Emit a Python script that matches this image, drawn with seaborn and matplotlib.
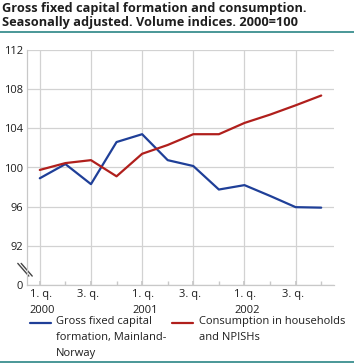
import matplotlib
matplotlib.use("Agg")
import matplotlib.pyplot as plt
import seaborn as sns
import pandas as pd
from matplotlib.lines import Line2D
import matplotlib.transforms as mtrans

quarters = ["2000Q1", "2000Q2", "2000Q3", "2000Q4",
            "2001Q1", "2001Q2", "2001Q3", "2001Q4",
            "2002Q1", "2002Q2", "2002Q3", "2002Q4"]
gfcf = [98.9, 100.35, 98.3, 102.6, 103.4, 100.75, 100.15, 97.75, 98.2, 97.1, 95.95, 95.9]
consumption = [99.75, 100.45, 100.75, 99.1, 101.4, 102.3, 103.4, 103.4, 104.55, 105.4, 106.35, 107.35]
series_names = ["Gross fixed capital\nformation, Mainland-\nNorway",
                "Consumption in households\nand NPISHs"]
tick_labels = ["1. q.\n2000", "3. q.", "1. q.\n2001", "3. q.", "1. q.\n2002", "3. q."]
ytick_values = [88, 92, 96, 100, 104, 108, 112]
ytick_labels = ["0", "92", "96", "100", "104", "108", "112"]

df = pd.DataFrame({
    "x": list(range(len(quarters))) * 2,
    "value": gfcf + consumption,
    "series": [series_names[0]] * len(quarters) + [series_names[1]] * len(quarters),
})

sns.set_theme(style="white")
plt.rcParams["font.family"] = ["Open Sans", "DejaVu Sans"]
text_color = "#1e1e1e"

W, H = 354, 364
fig = plt.figure(figsize=(W / 100, H / 100), dpi=100)
ax = fig.add_axes([27 / W, 1 - 285 / H, (334 - 27) / W, (285 - 50) / H])

colors = {series_names[0]: "#1f3f98", series_names[1]: "#b01f1c"}
sns.lineplot(data=df, x="x", y="value", hue="series", palette=colors,
             linewidth=1.6, ax=ax, legend=False)

ax.set_xlim(-0.5, 11.5)
ax.set_ylim(88, 112)
ax.set_yticks(ytick_values)
ax.set_yticklabels(ytick_labels)
ax.set_xticks(range(0, 12, 2))
ax.set_xticklabels(tick_labels)
ax.set_xticks(range(12), minor=True)
ax.tick_params(axis="x", which="both", direction="in", length=3, color="#c8c8c8",
               labelsize=8, pad=3, bottom=True, labelcolor=text_color)
ax.tick_params(axis="y", length=0, labelsize=8, pad=3, labelcolor=text_color)
for lbl in ax.get_xticklabels():
    if "\n" in lbl.get_text():
        lbl.set_horizontalalignment("left")
        lbl.set_multialignment("left")
        off = -10
    else:
        off = -3
    lbl.set_linespacing(1.6)
    lbl.set_transform(lbl.get_transform() +
                      mtrans.ScaledTranslation(off / 100, 0, fig.dpi_scale_trans))

ax.grid(True, axis="both", which="major", color="#d2d2d2", linewidth=0.9)
ax.set_axisbelow(True)
for s in ["top", "right"]:
    ax.spines[s].set_visible(False)
for s in ["left", "bottom"]:
    ax.spines[s].set_color("#c8c8c8")
    ax.spines[s].set_linewidth(0.9)
ax.set_xlabel("")
ax.set_ylabel("")

# axis break mark (two parallel backslashes across the y axis)
for dx in (0.0, 0.011):
    ax.plot([-0.030 + dx, 0.006 + dx], [0.092, 0.038], transform=ax.transAxes,
            color="#444444", linewidth=1.0, clip_on=False)

# title
fig.text(2 / W, 1 - 2 / H, "Gross fixed capital formation and consumption.\nSeasonally adjusted. Volume indices. 2000=100",
         ha="left", va="top", fontsize=9.2, fontweight="bold", linespacing=1.1, color=text_color)
fig.add_artist(Line2D([0, 1], [1 - 32 / H, 1 - 32 / H], transform=fig.transFigure, color="#2a8585", linewidth=1.2))
fig.add_artist(Line2D([0, 1], [1 - 362 / H, 1 - 362 / H], transform=fig.transFigure, color="#2a8585", linewidth=1.2))

# legend (manual layout)
legend_pos = [(30, 51, 56), (172, 193, 199)]
for name, (x0, x1, xt) in zip(series_names, legend_pos):
    fig.add_artist(Line2D([x0 / W, x1 / W], [1 - 323 / H, 1 - 323 / H],
                          transform=fig.transFigure, color=colors[name], linewidth=1.6))
    fig.text(xt / W, 1 - 316 / H, name, ha="left", va="top", fontsize=8,
             linespacing=1.6, color=text_color)

fig.savefig("out.png", dpi=100)
